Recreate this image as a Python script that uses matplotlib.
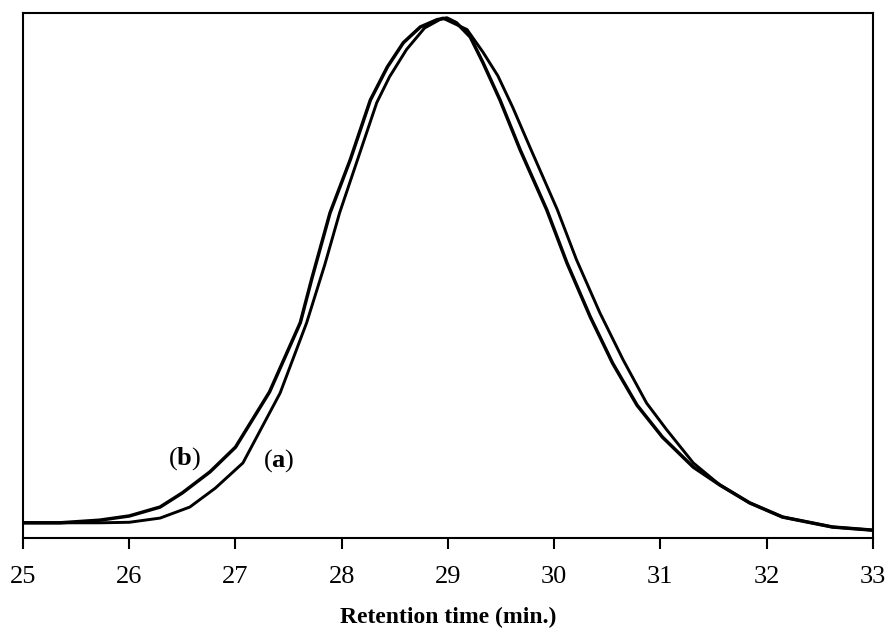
import matplotlib
matplotlib.use("Agg")
from matplotlib import pyplot as plt

plt.rcParams['font.family'] = ['Liberation Serif', 'DejaVu Serif']
plt.rcParams['mathtext.fontset'] = 'custom'
plt.rcParams['mathtext.rm'] = 'Liberation Serif'
plt.rcParams['mathtext.bf'] = 'Liberation Serif:bold'

# curve (a)
time_a = [25.00, 25.72, 26.00, 26.29, 26.57, 26.81, 27.07, 27.42, 27.67, 27.84,
          27.98, 28.17, 28.33, 28.45, 28.61, 28.78, 28.95, 29.18, 29.33, 29.47,
          29.61, 29.77, 30.03, 30.21, 30.43, 30.65, 30.87, 31.06, 31.31, 31.56,
          31.84, 32.15, 32.62, 33.00]
signal_a = [2.9, 2.9, 3.0, 3.8, 5.9, 9.5, 14.3, 27.6, 41.0, 52.0,
            61.9, 73.3, 82.9, 87.8, 93.0, 97.1, 99.0, 96.8, 92.5, 88.0,
            82.0, 74.5, 62.5, 53.0, 42.9, 33.9, 25.7, 20.6, 14.3, 10.1,
            6.7, 4.0, 2.1, 1.5]

# curve (b)
time_b = [25.00, 25.35, 25.72, 26.00, 26.29, 26.50, 26.76, 27.00, 27.32, 27.61,
          27.72, 27.89, 28.08, 28.27, 28.43, 28.58, 28.74, 28.90, 28.99, 29.08,
          29.21, 29.33, 29.49, 29.68, 29.93, 30.12, 30.34, 30.55, 30.78, 31.02,
          31.31, 31.56, 31.84, 32.15, 32.62, 33.00]
signal_b = [2.9, 2.9, 3.4, 4.2, 5.9, 8.6, 12.6, 17.3, 27.8, 41.0,
            49.5, 61.9, 72.0, 83.4, 89.7, 94.3, 97.3, 98.7, 99.0, 98.1,
            95.4, 90.5, 83.4, 73.9, 62.5, 52.4, 42.1, 33.3, 25.3, 19.2,
            13.5, 10.1, 6.7, 4.0, 2.1, 1.5]

fig = plt.figure(figsize=(8.87, 6.39), dpi=100)
ax = fig.add_axes([0.026, 0.158, 0.958, 0.822])

ax.plot(time_a, signal_a, color="black", lw=2.1)
ax.plot(time_b, signal_b, color="black", lw=2.5)

ax.set_xlim(25, 33)
ax.set_ylim(0, 100)
ax.set_xticks(range(25, 34))
ax.set_yticks([])
ax.tick_params(axis="x", direction="out", length=8, width=1.5, labelsize=19, pad=12)
for s in ax.spines.values():
    s.set_linewidth(1.5)

ax.text(26.52, 15.2, r"($\mathbf{b}$)", fontsize=19, ha="center", va="center")
ax.text(27.41, 14.8, r"($\mathbf{a}$)", fontsize=19, ha="center", va="center")

ax.set_xlabel("Retention time (min.)", fontsize=17, fontweight="bold")
ax.xaxis.set_label_coords(0.5, -0.132)

fig.savefig("out.png", dpi=100)
